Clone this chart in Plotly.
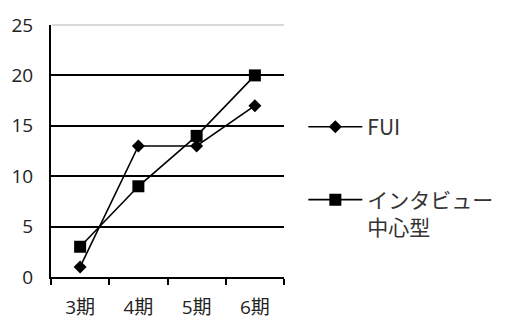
import plotly.graph_objects as go

# Periods and scores for the two methods
periods = ["3期", "4期", "5期", "6期"]
fui_values = [1, 13, 13, 17]
interview_values = [3, 9, 14, 20]

series_fui_name = "FUI"
series_interview_name = "インタビュー<br>中心型"

y_ticks = [0, 5, 10, 15, 20, 25]

fig = go.Figure()

fig.add_trace(go.Scatter(
    x=periods, y=fui_values, name=series_fui_name,
    mode="lines+markers", showlegend=True,
    line=dict(color="black", width=1.6),
    marker=dict(symbol="diamond", size=10, color="black"),
    legend="legend",
))
fig.add_trace(go.Scatter(
    x=periods, y=interview_values, name=series_interview_name,
    mode="lines+markers", showlegend=True,
    line=dict(color="black", width=1.6),
    marker=dict(symbol="square", size=12, color="black"),
    legend="legend2",
))

legend_font = dict(family="Noto Sans CJK JP", size=21, color="#333")

fig.update_layout(
    width=511, height=320,
    margin=dict(l=51, r=227, t=25, b=43, autoexpand=False),
    paper_bgcolor="white", plot_bgcolor="white",
    showlegend=True,
    font=dict(family="Open Sans, Noto Sans CJK JP", size=19, color="#222"),
    legend=dict(x=1.083, y=0.595, xanchor="left", yanchor="middle",
                font=legend_font, bgcolor="rgba(0,0,0,0)", itemwidth=54,
                visible=True),
    legend2=dict(x=1.083, y=0.252, xanchor="left", yanchor="middle",
                 font=legend_font, bgcolor="rgba(0,0,0,0)", itemwidth=54,
                 valign="top", visible=True),
    xaxis=dict(
        type="category", tickson="boundaries", ticks="outside", ticklen=6,
        tickwidth=2, tickcolor="black", showline=True, linecolor="black",
        linewidth=2, showgrid=False, ticklabelstandoff=12, automargin=False,
        range=[-0.5, 3.5], tickfont=dict(size=19),
    ),
    yaxis=dict(
        range=[0, 25], tickvals=y_ticks, ticks="inside", ticklen=5,
        tickwidth=2, tickcolor="black", showline=True, linecolor="black",
        linewidth=2, showgrid=True, gridcolor="black", gridwidth=2,
        zeroline=False, ticklabelstandoff=12, automargin=False,
    ),
    shapes=[dict(type="line", xref="paper", yref="paper", x0=0.005, x1=1,
                 y0=1, y1=1, line=dict(color="#d9d9d9", width=2), layer="above")],
)

fig.write_html("out.html")
